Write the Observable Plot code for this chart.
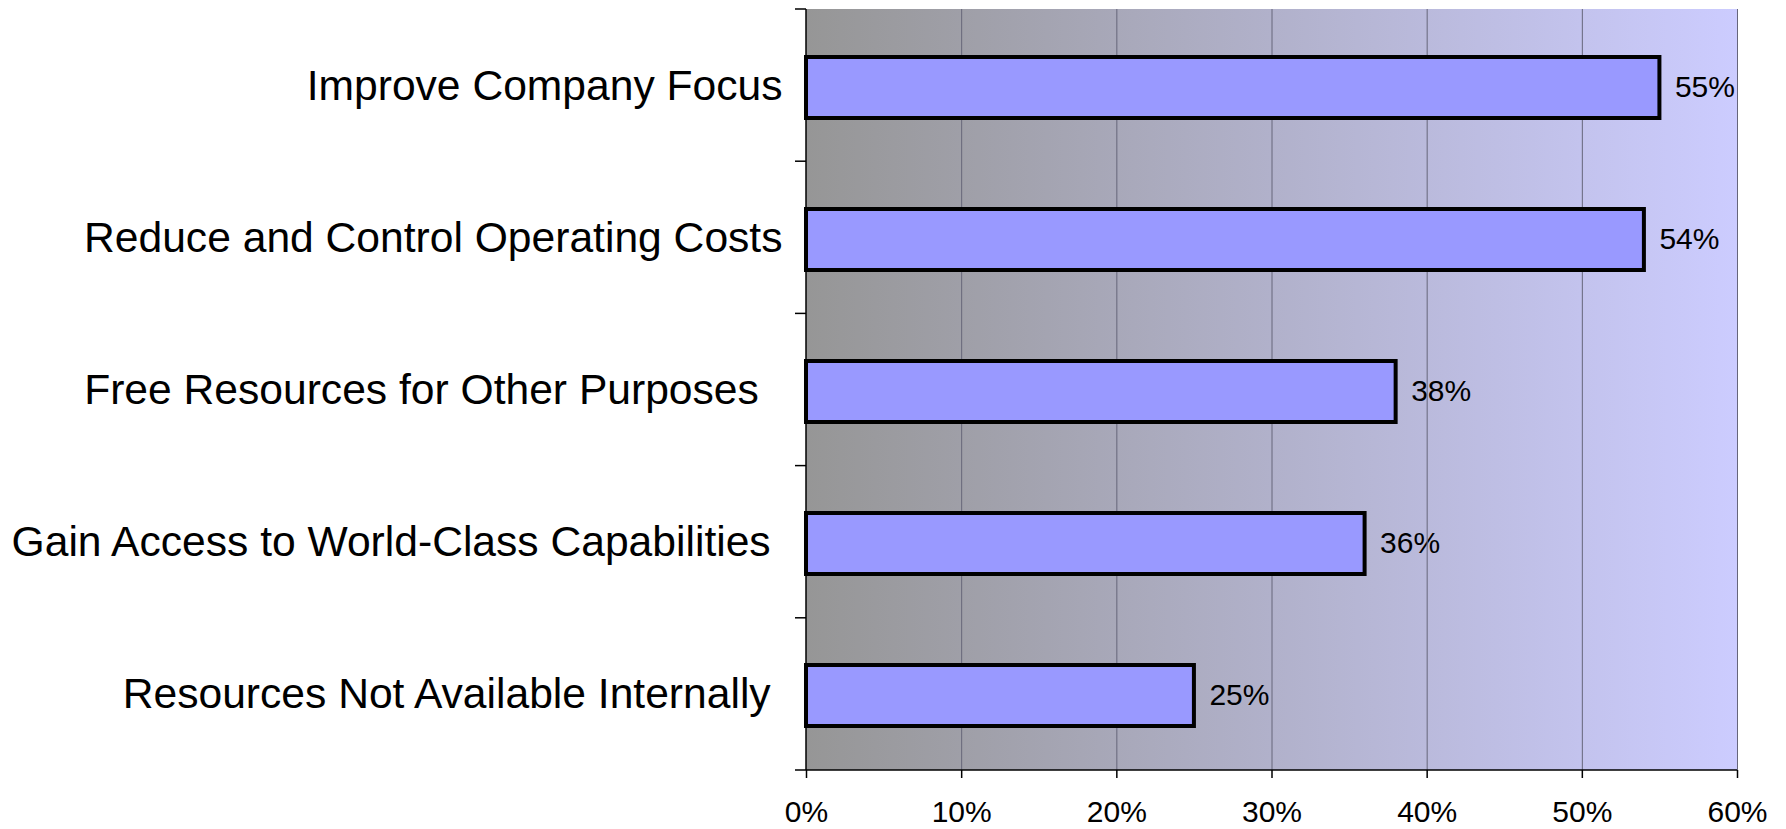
<!DOCTYPE html>
<html>
<head>
<meta charset="utf-8">
<script src="https://cdn.jsdelivr.net/npm/d3@7"></script>
<script src="https://cdn.jsdelivr.net/npm/@observablehq/plot@0.6"></script>
<style>
  html, body { margin: 0; padding: 0; background: #ffffff; }
  #chart svg { display: block; }
  #chart svg text { white-space: pre; }
</style>
</head>
<body>
<div id="chart"></div>
<script>
const categories = [
  "Improve Company Focus",
  "Reduce and Control Operating Costs",
  "Free Resources for Other Purposes  ",
  "Gain Access to World-Class Capabilities ",
  "Resources Not Available Internally "
];
const values = [55, 54, 38, 36, 25];
const xTicks = [0, 10, 20, 30, 40, 50, 60];

const data = categories.map((c, i) => ({category: c, value: values[i]}));
const FONT = "'Liberation Sans', Arial, Helvetica, sans-serif";

// background gradient panel
function background(index, scales, values, dims) {
  const g = d3.create("svg:g");
  const defs = g.append("defs");
  const lg = defs.append("linearGradient").attr("id", "bggrad")
    .attr("x1", "0%").attr("x2", "100%").attr("y1", "0%").attr("y2", "0%");
  lg.append("stop").attr("offset", "0%").attr("stop-color", "#969696");
  lg.append("stop").attr("offset", "100%").attr("stop-color", "#CCCCFF");
  g.append("rect")
    .attr("x", dims.marginLeft)
    .attr("y", dims.marginTop)
    .attr("width", dims.width - dims.marginLeft - dims.marginRight)
    .attr("height", dims.height - dims.marginTop - dims.marginBottom)
    .attr("fill", "url(#bggrad)");
  return g.node();
}

// axis lines and category boundary ticks
function axes(index, scales, values, dims) {
  const g = d3.create("svg:g").attr("stroke", "#000").attr("stroke-width", 1.5);
  const top = dims.marginTop, bottom = dims.height - dims.marginBottom;
  const left = scales.x(0), right = dims.width - dims.marginRight;
  const n = categories.length;
  const step = (bottom - top) / n;
  g.append("line").attr("x1", left).attr("x2", left).attr("y1", top).attr("y2", bottom);
  g.append("line").attr("x1", left).attr("x2", right).attr("y1", bottom).attr("y2", bottom);
  for (let i = 0; i <= n; i++) {
    const yy = top + i * step;
    g.append("line").attr("x1", left - 11).attr("x2", left).attr("y1", yy).attr("y2", yy);
  }
  return g.node();
}

const chart = Plot.plot({
  width: 1786,
  height: 829,
  marginLeft: 806,
  marginRight: 49,
  marginTop: 9,
  marginBottom: 59,
  style: {fontFamily: FONT, background: "#ffffff", color: "#000"},
  x: {domain: [0, 60]},
  y: {domain: categories, paddingInner: 0.6, paddingOuter: 0.3},
  marks: [
    background,
    Plot.text(data, {x: "value", y: "category", text: d => d.value + "%", textAnchor: "start", dx: 15, dy: 1, fontSize: 30, fill: "#000"}),
    Plot.gridX(xTicks.slice(1), {stroke: "#66667a", strokeOpacity: 1, strokeWidth: 1}),
    Plot.barX(data, {x: "value", y: "category", fill: "#9999FF", stroke: "#000", strokeWidth: 4, dy: 2}),
    Plot.axisX({ticks: xTicks, tickFormat: d => d + "%", tickSize: 8, tickPadding: 22, fontSize: 30, stroke: "#000", strokeWidth: 1.5, label: null}),
    Plot.axisY({tickSize: 0, tickPadding: 24, fontSize: 42.6, label: null}),
    axes
  ]
});
document.getElementById("chart").appendChild(chart);
</script>
</body>
</html>
